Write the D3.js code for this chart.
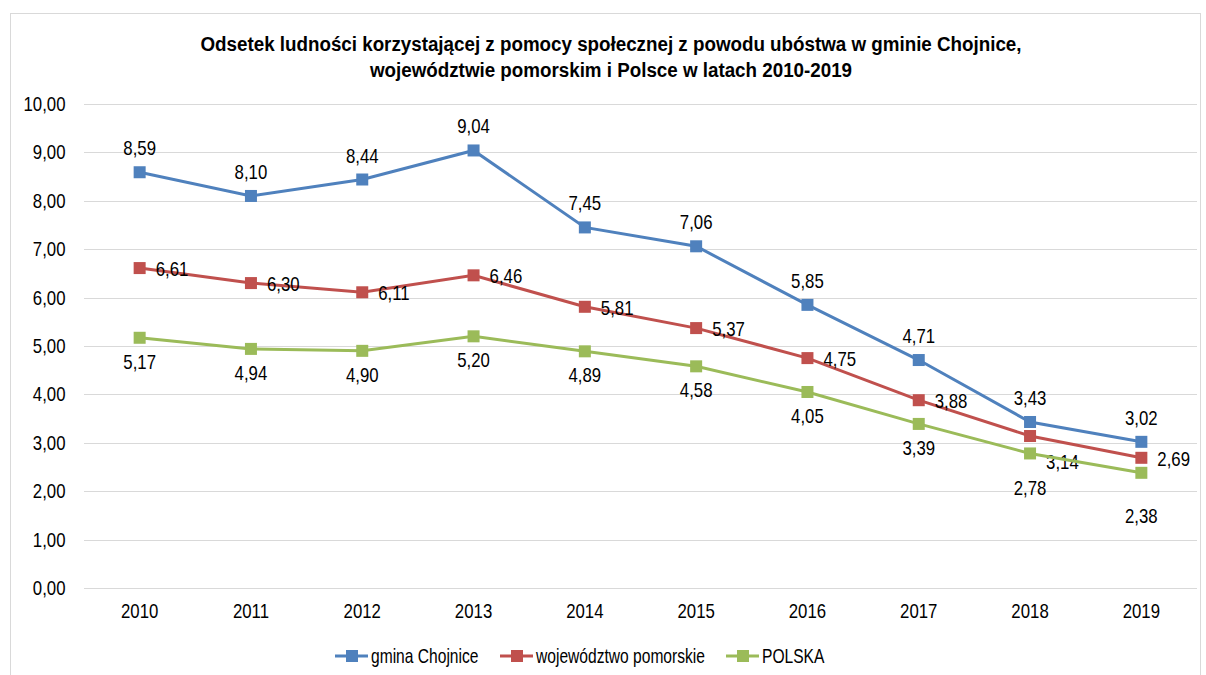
<!DOCTYPE html>
<html>
<head>
<meta charset="utf-8">
<script src="https://cdn.jsdelivr.net/npm/d3@7"></script>
<style>
  body { margin: 0; background: #fff; }
  text { font-family: "Liberation Sans", Arial, sans-serif; fill: #000; }
</style>
</head>
<body>
<div id="chart"></div>
<script>
// data
const years = ['2010', '2011', '2012', '2013', '2014', '2015', '2016', '2017', '2018', '2019'];
const chojnice = [8.59, 8.10, 8.44, 9.04, 7.45, 7.06, 5.85, 4.71, 3.43, 3.02];
const pomorskie = [6.61, 6.30, 6.11, 6.46, 5.81, 5.37, 4.75, 3.88, 3.14, 2.69];
const polska = [5.17, 4.94, 4.90, 5.20, 4.89, 4.58, 4.05, 3.39, 2.78, 2.38];
const yTicks = [0, 1, 2, 3, 4, 5, 6, 7, 8, 9, 10];
const seriesNames = ['gmina Chojnice', 'województwo pomorskie', 'POLSKA'];

var _width = 1206;
var _height = 675;
var margin = { top: 104, right: 9, bottom: 87, left: 84 };
var width = _width - margin.left - margin.right;
var height = _height - margin.top - margin.bottom;

var colors = ['#4F81BD', '#C0504D', '#9BBB59'];
var narrow = 0.84; // no Arial Narrow here, so squeeze Liberation Sans
var fmt = function(v) { return d3.format('.2f')(v).replace('.', ','); };

var svg = d3.select('#chart').append('svg')
	.attr('width', _width)
	.attr('height', _height);

// outer frame
svg.append('rect')
	.attr('x', 10.5).attr('y', 13.5)
	.attr('width', 1190).attr('height', 680)
	.attr('fill', 'none')
	.attr('stroke', '#d9d9d9');

// title
var title = svg.append('text')
	.attr('transform', 'translate(611,0) scale(0.895,1)')
	.attr('text-anchor', 'middle')
	.style('font-weight', 'bold')
	.style('font-size', '21px');
title.append('tspan').attr('x', 0).attr('y', 51)
	.text('Odsetek ludności korzystającej  z pomocy społecznej z powodu ubóstwa w gminie Chojnice,');
title.append('tspan').attr('x', 0).attr('y', 77)
	.text('województwie pomorskim i Polsce w latach 2010-2019');

var g = svg.append('g')
	.attr('transform', 'translate(' + margin.left + ',' + margin.top + ')');

// scales
var x = d3.scaleBand().domain(years).range([0, width]);
var y = d3.scaleLinear().domain([0, 10]).range([height, 0]);
var cx = function(d, i) { return x(years[i]) + x.bandwidth() / 2; };

// gridlines
g.append('g')
	.selectAll('line')
	.data(yTicks)
	.enter().append('line')
	.attr('x1', 0).attr('x2', width)
	.attr('y1', function(d) { return Math.round(y(d)) + 0.5; })
	.attr('y2', function(d) { return Math.round(y(d)) + 0.5; })
	.attr('stroke', '#d9d9d9')
	.attr('stroke-width', 1);

// Y axis
var yAxis = g.append('g')
	.call(d3.axisLeft(y).tickValues(yTicks).tickSize(0).tickPadding(22).tickFormat(fmt));
yAxis.select('.domain').remove();
yAxis.selectAll('text').style('font-size', '20px').attr('transform', 'scale(' + narrow + ',1)');

// X axis
var xAxis = g.append('g')
	.attr('transform', 'translate(0,' + height + ')')
	.call(d3.axisBottom(x).tickSize(0).tickPadding(16));
xAxis.select('.domain').remove();
xAxis.selectAll('text').style('font-size', '20px').attr('transform', 'scale(' + narrow + ',1)');

var allSeries = [chojnice, pomorskie, polska];

var line = d3.line()
	.x(function(d, i) { return cx(d, i); })
	.y(function(d) { return y(d); });

allSeries.forEach(function(values, s) {
	g.append('path')
		.datum(values)
		.attr('fill', 'none')
		.attr('stroke', colors[s])
		.attr('stroke-width', 3)
		.attr('d', line);

	g.append('g')
		.selectAll('rect')
		.data(values)
		.enter().append('rect')
		.attr('x', function(d, i) { return cx(d, i) - 6; })
		.attr('y', function(d) { return y(d) - 6; })
		.attr('width', 12).attr('height', 12)
		.attr('fill', colors[s]);

	// data labels: blue above, red to the right, green below
	g.append('g')
		.selectAll('text')
		.data(values)
		.enter().append('text')
		.attr('transform', function(d, i) {
			var lx = cx(d, i);
			var ly;
			if (s === 0) ly = y(d) - 24;
			else if (s === 1) { lx += 16; ly = y(d) + (i === 8 ? 26 : 1); }
			else ly = y(d) + (i >= 8 ? 35 + (i - 8) * 8 : 24);
			return 'translate(' + lx + ',' + ly + ') scale(' + narrow + ',1)';
		})
		.attr('dy', '0.35em')
		.attr('text-anchor', s === 1 ? 'start' : 'middle')
		.style('font-size', '20px')
		.text(fmt);
});

// legend
var legendX = [335, 500, 726];
var legend = svg.append('g').attr('transform', 'translate(0,656)');
seriesNames.forEach(function(name, s) {
	var lg = legend.append('g').attr('transform', 'translate(' + legendX[s] + ',0)');
	lg.append('line')
		.attr('x1', 0).attr('x2', 33)
		.attr('y1', 0).attr('y2', 0)
		.attr('stroke', colors[s]).attr('stroke-width', 3);
	lg.append('rect')
		.attr('x', 11).attr('y', -6).attr('width', 12).attr('height', 12)
		.attr('fill', colors[s]);
	lg.append('text')
		.attr('transform', 'translate(36,0) scale(0.78,1)')
		.attr('dy', '0.35em')
		.style('font-size', '20px')
		.text(name);
});
</script>
</body>
</html>
